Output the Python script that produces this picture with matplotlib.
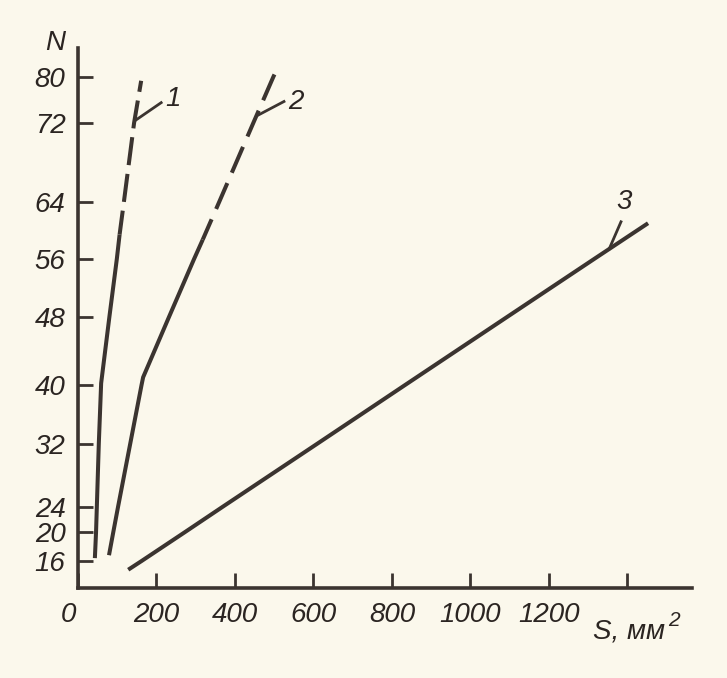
import numpy as np
import matplotlib
matplotlib.use("Agg")
import matplotlib.pyplot as plt
from matplotlib.transforms import ScaledTranslation

# dados (S em mm2, N)
s_curva1 = [43, 46, 48, 53, 59, 80, 99, 106]
n_curva1 = [16.4, 20, 24, 32, 40.2, 48, 56, 59.4]
s_curva1_tracejada = [106, 117, 143, 161]
n_curva1_tracejada = [59.4, 64, 72, 79.3]

s_curva2 = [79, 90, 102, 133, 162, 166, 232, 296, 318]
n_curva2 = [16.8, 20, 24, 32, 40, 40.9, 48, 56, 58.7]
s_curva2_tracejada = [318, 360, 447, 498, 510]
n_curva2_tracejada = [58.7, 64, 72, 80, 81.7]

s_curva3 = [128, 162, 273, 368, 609, 834, 1094, 1316, 1453]
n_curva3 = [14.8, 16, 20, 24, 32, 40, 48, 56, 61]

x_ticks = [0, 200, 400, 600, 800, 1000, 1200, 1400]
x_rotulos = ["0", "200", "400", "600", "800", "1000", "1200", ""]
y_ticks = [16, 20, 24, 32, 40, 48, 56, 64, 72, 80]

# rotulos das curvas: texto, posicao do texto, linha de chamada
rotulos = ["1", "2", "3"]
rotulo_pos = [(242, 76.2), (556, 75.7), (1392, 64.0)]
chamada_ini = [(212, 75.5), (525, 75.7), (1384, 61.2)]
chamada_fim = [(148, 72.5), (461, 73.4), (1354, 57.4)]

# escala irregular do eixo N (como no desenho original)
escala_n = [0, 16, 20, 24, 32, 40, 48, 56, 64, 72, 80, 100]
escala_u = [-89, 27, 56, 81, 144, 203, 271, 329, 386, 465, 511, 626]


def direta(n):
    return np.interp(n, escala_n, escala_u)


def inversa(u):
    return np.interp(u, escala_u, escala_n)


papel = "#fbf8ec"
tinta = "#3b3430"
texto = "#2b2522"
fonte = ["Liberation Sans Narrow", "Liberation Sans", "DejaVu Sans"]

plt.rcParams["font.family"] = fonte
plt.rcParams["font.style"] = "italic"

fig = plt.figure(figsize=(7.27, 6.78), dpi=100, facecolor=papel)
ax = fig.add_axes([78 / 727, 90 / 678, 614 / 727, 540 / 678])
ax.set_facecolor(papel)
ax.set_yscale("function", functions=(direta, inversa))

lw = 2.9
ax.plot(s_curva1, n_curva1, color=tinta, lw=lw, solid_capstyle="butt")
ax.plot(s_curva1_tracejada, n_curva1_tracejada, color=tinta, lw=lw,
        linestyle=(1, (7, 2.2)), dash_capstyle="butt")
ax.plot(s_curva2, n_curva2, color=tinta, lw=lw, solid_capstyle="butt")
ax.plot(s_curva2_tracejada, n_curva2_tracejada, color=tinta, lw=lw,
        linestyle=(1.5, (7, 2.8)), dash_capstyle="butt")
ax.plot(s_curva3, n_curva3, color=tinta, lw=lw, solid_capstyle="butt")

for r, pos, a, b in zip(rotulos, rotulo_pos, chamada_ini, chamada_fim):
    ax.plot([a[0], b[0]], [a[1], b[1]], color=tinta, lw=2.0)
    ax.text(pos[0], pos[1], r, ha="center", va="center", fontsize=20,
            color=texto)

ax.set_xlim(0, 1565)
ax.set_ylim(12.28, 85)

ax.set_xticks(x_ticks)
ax.set_xticklabels(x_rotulos)
ax.set_yticks(y_ticks)
ax.set_yticklabels([str(v) for v in y_ticks])
ax.minorticks_off()

for lado in ["top", "right"]:
    ax.spines[lado].set_visible(False)
for lado in ["left", "bottom"]:
    ax.spines[lado].set_linewidth(2.6)
    ax.spines[lado].set_color(tinta)

ax.tick_params(axis="both", direction="in", length=11, width=2.0,
               color=tinta, labelsize=20, labelcolor=texto)
ax.tick_params(axis="y", pad=9)
ax.tick_params(axis="x", pad=10)

# o zero fica um pouco a esquerda
desloc = ScaledTranslation(-0.1, 0, fig.dpi_scale_trans)
rot0 = ax.get_xticklabels()[0]
rot0.set_transform(rot0.get_transform() + desloc)

fig.text(55 / 727, 1 - 43 / 678, "N", ha="center", va="center",
         fontsize=20, color=texto)
rotulo_s = fig.text(593 / 727, 1 - 638 / 678, "S, мм", ha="left",
                    va="baseline", fontsize=20, color=texto)
ax.annotate("2", xy=(1.0, 0.55), xycoords=rotulo_s, xytext=(2, 0),
            textcoords="offset points", ha="left", va="bottom",
            fontsize=15, color=texto, annotation_clip=False)

fig.savefig("out.png", dpi=100, facecolor=papel)
